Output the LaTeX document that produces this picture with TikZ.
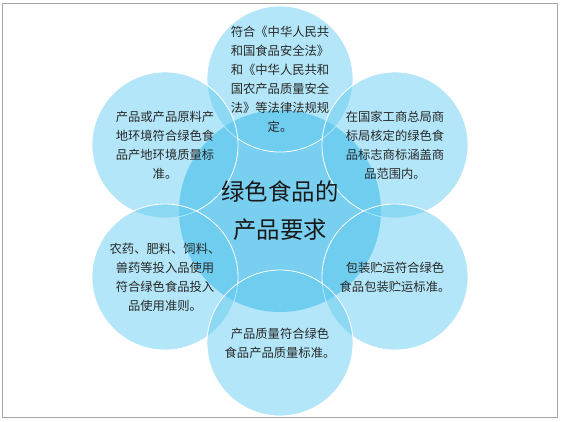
\documentclass[tikz,border=0pt]{standalone}
\usepackage{fontspec}
\setmainfont{Noto Sans CJK SC}
\definecolor{petalblue}{RGB}{103,205,241}
\definecolor{hubblue}{RGB}{120,207,240}
\definecolor{framegray}{RGB}{166,166,166}
\definecolor{inkgray}{RGB}{40,40,40}

\begin{document}
\begin{tikzpicture}[x=1pt, y=-1pt, node distance=132pt]
    \tikzstyle{hub} = [circle, minimum size=202pt, inner sep=0pt, fill=hubblue]
    \tikzstyle{petal} = [circle, minimum size=146pt, inner sep=0pt, draw=white, line width=0.8pt, fill=petalblue, fill opacity=0.5, text opacity=1, text=inkgray, align=center, font=\fontsize{12.3}{19}\selectfont]
    \tikzstyle{hubtext} = [align=center, text=black!90, font=\fontsize{23.4}{38}\selectfont]

    \useasboundingbox (0,0) rectangle (561,421);
    \draw [framegray, line width=0.8pt] (2.5,3.5) rectangle (557,417);

    % Central circle
    \node [hub] (req) at (280,211) {};

    % Requirement petals
    \node [petal, above of=req] (law) {符合《中华人民共\\和国食品安全法》\\和《中华人民共和\\国农产品质量安全\\法》等法律法规规\\定。};
    \node [petal, left of=req, xshift=17pt, yshift=66pt] (origin) {产品或产品原料产\\地环境符合绿色食\\品产地环境质量标\\准。};
    \node [petal, right of=req, xshift=-17pt, yshift=66pt] (brand) {在国家工商总局商\\标局核定的绿色食\\品标志商标涵盖商\\品范围内。};
    \node [petal, left of=req, xshift=17pt, yshift=-66pt] (inputs) {农药、肥料、饲料、\\兽药等投入品使用\\符合绿色食品投入\\品使用准则。};
    \node [petal, right of=req, xshift=-17pt, yshift=-66pt] (pack) {包装贮运符合绿色\\食品包装贮运标准。};
    \node [petal, below of=req] (quality) {产品质量符合绿色\\食品产品质量标准。};

    % Title on top
    \node [hubtext] (reqtext) at (req) {绿色食品的\\产品要求};
\end{tikzpicture}
\end{document}
